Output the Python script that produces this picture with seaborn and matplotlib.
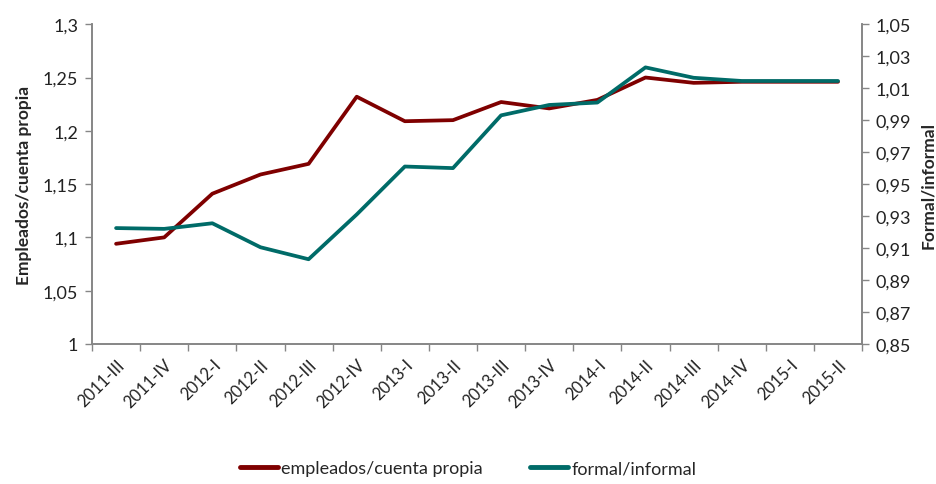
import pandas as pd
import numpy as np
import matplotlib
matplotlib.use("Agg")
import matplotlib.pyplot as plt
import seaborn as sns
from matplotlib.lines import Line2D
from matplotlib.ticker import FuncFormatter, FixedLocator

# periodos (trimestres)
periodos = ["2011-III", "2011-IV", "2012-I", "2012-II", "2012-III", "2012-IV",
            "2013-I", "2013-II", "2013-III", "2013-IV", "2014-I", "2014-II",
            "2014-III", "2014-IV", "2015-I", "2015-II"]

# empleados/cuenta propia (eje izquierdo)
empleados_cp = [1.094, 1.100, 1.141, 1.159, 1.169, 1.232, 1.209, 1.210,
                1.227, 1.221, 1.229, 1.250, 1.245, 1.246, 1.246, 1.246]

# formal/informal (eje derecho)
formal_inf = [0.9225, 0.922, 0.9255, 0.9105, 0.903, 0.931, 0.961, 0.960,
              0.993, 0.9995, 1.001, 1.023, 1.0165, 1.0145, 1.0145, 1.0145]

rojo = "#7F0000"
verde = "#006B68"
gris = "#868686"

sns.set_theme(style="white")
plt.rcParams["font.family"] = ["Lato", "DejaVu Sans"]

df = pd.DataFrame({"periodo": periodos, "emp": empleados_cp, "form": formal_inf})

fig = plt.figure(figsize=(9.36, 4.85), dpi=100)
ax = fig.add_axes([0.0983, 0.2887, 0.8227, 0.6593])
ax2 = ax.twinx()

sns.lineplot(data=df, x="periodo", y="emp", ax=ax, color=rojo, linewidth=2.7, sort=False)
sns.lineplot(data=df, x="periodo", y="form", ax=ax2, color=verde, linewidth=2.7, sort=False)

n = len(periodos)
ax.set_xlim(-0.5, n - 0.5)
ax.set_ylim(1.0, 1.3)
ax2.set_ylim(0.85, 1.05)

def fmt_izq(v, p):
    if abs(v - 1) < 1e-9:
        return "1"
    return ("%.2f" % v).rstrip("0").replace(".", ",")

ax.set_yticks(np.arange(1.0, 1.3001, 0.05))
ax.yaxis.set_major_formatter(FuncFormatter(fmt_izq))
ax2.set_yticks(np.arange(0.85, 1.0501, 0.02))
ax2.yaxis.set_major_formatter(FuncFormatter(lambda v, p: ("%.2f" % v).replace(".", ",")))

# etiquetas en el centro, marcas en los bordes
ax.set_xticks(range(n))
ax.set_xticklabels(periodos, rotation=45, ha="right", rotation_mode="anchor")
ax.xaxis.set_minor_locator(FixedLocator(np.arange(-0.5, n, 1)))
ax.tick_params(axis="x", which="major", length=0, pad=9, labelsize=12, labelcolor="#222222")
ax.tick_params(axis="x", which="minor", length=5, color=gris, width=1, direction="out", bottom=True)
ax.tick_params(axis="y", length=5, color=gris, width=1, direction="out", left=True,
               labelsize=13, labelcolor="#222222", pad=5)
ax2.tick_params(axis="y", length=5, color=gris, width=1, direction="out", right=True,
                labelsize=13, labelcolor="#222222", pad=5)

for a in (ax, ax2):
    a.spines["top"].set_visible(False)
    for s in ("left", "right", "bottom"):
        a.spines[s].set_color(gris)
        a.spines[s].set_linewidth(1.2)
    a.grid(False)
    a.set_xlabel("")

ax.set_ylabel("Empleados/cuenta propia", fontsize=12.5, fontweight="bold", labelpad=8)
ax2.set_ylabel("Formal/informal", fontsize=12.5, fontweight="bold", labelpad=6)

handles = [Line2D([0], [0], color=rojo, lw=3.5), Line2D([0], [0], color=verde, lw=3.5)]
fig.legend(handles, ["empleados/cuenta propia", "formal/informal"], loc="center",
           bbox_to_anchor=(0.5, 0.032), ncol=2, frameon=False, fontsize=13,
           handlelength=2.1, handletextpad=0.2, columnspacing=2.6)

fig.savefig("out.png", dpi=100)
